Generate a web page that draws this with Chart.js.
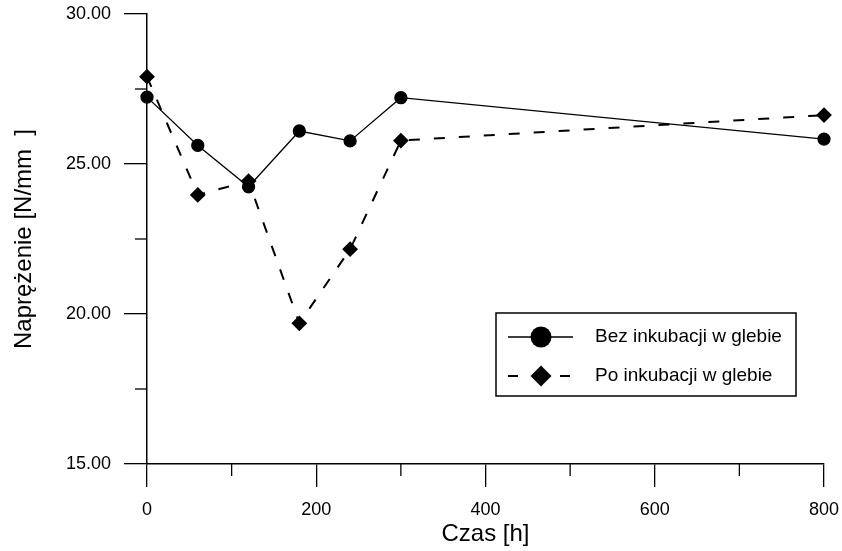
<!DOCTYPE html>
<html>
<head>
<meta charset="utf-8">
<script src="https://cdn.jsdelivr.net/npm/chart.js@4/dist/chart.umd.min.js"></script>
<style>
  html, body { margin: 0; padding: 0; background: #fff; }
</style>
</head>
<body>
<canvas id="chart" width="842" height="551"></canvas>
<script>
// data
const czas = [0, 60, 120, 180, 240, 300, 800];
const bezInkubacji = [27.23, 25.62, 24.24, 26.10, 25.77, 27.21, 25.83];
const poInkubacji = [27.91, 23.97, 24.43, 19.69, 22.16, 25.78, 26.63];
const seriesNames = ['Bez inkubacji w glebie', 'Po inkubacji w glebie'];

const xMajorTicks = [0, 200, 400, 600, 800];
const xMinorTicks = [100, 300, 500, 700];
const yMajorTicks = [15, 20, 25, 30];
const yMinorTicks = [17.5, 22.5, 27.5];

const FONT = 'Arial, "Liberation Sans", sans-serif';

// short ticks between the labelled ones
const minorTicks = {
  id: 'minorTicks',
  afterDraw(chart) {
    const { ctx, scales: { x, y } } = chart;
    ctx.save();
    ctx.strokeStyle = '#000';
    ctx.lineWidth = 1.3;
    xMinorTicks.forEach(v => {
      const px = x.getPixelForValue(v);
      ctx.beginPath();
      ctx.moveTo(px, x.top);
      ctx.lineTo(px, x.top + 12);
      ctx.stroke();
    });
    yMinorTicks.forEach(v => {
      const py = y.getPixelForValue(v);
      ctx.beginPath();
      ctx.moveTo(y.right, py);
      ctx.lineTo(y.right - 12, py);
      ctx.stroke();
    });
    ctx.restore();
  }
};

// boxed legend with line + marker samples
const boxLegend = {
  id: 'boxLegend',
  afterDraw(chart) {
    const { ctx } = chart;
    const left = 496, top = 313, w = 300, h = 83;
    ctx.save();
    ctx.fillStyle = '#fff';
    ctx.fillRect(left, top, w, h);
    ctx.strokeStyle = '#000';
    ctx.lineWidth = 1.5;
    ctx.strokeRect(left, top, w, h);

    chart.data.datasets.forEach((ds, i) => {
      const yy = top + 24 + i * 39;
      ctx.strokeStyle = '#000';
      ctx.lineWidth = ds.borderWidth;
      ctx.beginPath();
      if (i === 0) {
        ctx.moveTo(508, yy);
        ctx.lineTo(573, yy);
      } else {
        ctx.moveTo(508, yy); ctx.lineTo(518, yy);
        ctx.moveTo(560, yy); ctx.lineTo(570, yy);
      }
      ctx.stroke();
      ctx.fillStyle = '#000';
      Chart.helpers.drawPoint(ctx, { pointStyle: ds.pointStyle, radius: 10.5, borderWidth: 0, rotation: 0 }, 541, yy);
      ctx.fillStyle = '#000';
      ctx.font = '19px ' + FONT;
      ctx.textBaseline = 'middle';
      ctx.textAlign = 'left';
      ctx.fillText(ds.label, 595, yy);
    });
    ctx.restore();
  }
};

new Chart(document.getElementById('chart'), {
  type: 'scatter',
  data: {
    datasets: [
      {
        label: seriesNames[0],
        data: czas.map((x, i) => ({ x: x, y: bezInkubacji[i] })),
        showLine: true,
        borderColor: '#000',
        backgroundColor: '#000',
        borderWidth: 1.3,
        pointStyle: 'circle',
        pointRadius: 6,
        clip: false
      },
      {
        label: seriesNames[1],
        data: czas.map((x, i) => ({ x: x, y: poInkubacji[i] })),
        showLine: true,
        borderColor: '#000',
        backgroundColor: '#000',
        borderWidth: 2,
        borderDash: [11, 14],
        pointStyle: 'rectRot',
        pointRadius: 6.5,
        clip: false
      }
    ]
  },
  options: {
    responsive: false,
    animation: false,
    events: [],
    layout: { padding: { top: 14, right: 18, left: 0, bottom: 0 } },
    plugins: {
      legend: { display: false },
      tooltip: { enabled: false }
    },
    scales: {
      x: {
        type: 'linear',
        min: 0,
        max: 800,
        afterBuildTicks: s => { s.ticks = xMajorTicks.map(v => ({ value: v })); },
        afterFit: s => {
          s.height = 87;
          s.paddingLeft = 0; s.paddingRight = 0;
        },
        ticks: {
          color: '#000',
          font: { family: FONT, size: 18 },
          padding: 12,
          maxRotation: 0,
          callback: v => String(v)
        },
        grid: { drawOnChartArea: false, drawTicks: true, tickLength: 23, color: '#000', lineWidth: 1.3 },
        border: { color: '#000', width: 1.5 },
        title: {
          display: true,
          text: 'Czas [h]',
          color: '#000',
          font: { family: FONT, size: 24 },
          padding: { top: 0, bottom: 2 }
        }
      },
      y: {
        type: 'linear',
        min: 15,
        max: 30,
        afterBuildTicks: s => { s.ticks = yMajorTicks.map(v => ({ value: v })); },
        afterFit: s => {
          s.width = 147;
          s.paddingTop = 0; s.paddingBottom = 0;
        },
        ticks: {
          color: '#000',
          font: { family: FONT, size: 18 },
          padding: 13,
          callback: v => Number(v).toFixed(2)
        },
        grid: { drawOnChartArea: false, drawTicks: true, tickLength: 23, color: '#000', lineWidth: 1.3 },
        border: { color: '#000', width: 1.5 },
        title: {
          display: true,
          text: 'Naprężenie [N/mm  ]',
          color: '#000',
          font: { family: FONT, size: 24 },
          padding: { top: 10, bottom: 0 }
        }
      }
    }
  },
  plugins: [minorTicks, boxLegend]
});
</script>
</body>
</html>
